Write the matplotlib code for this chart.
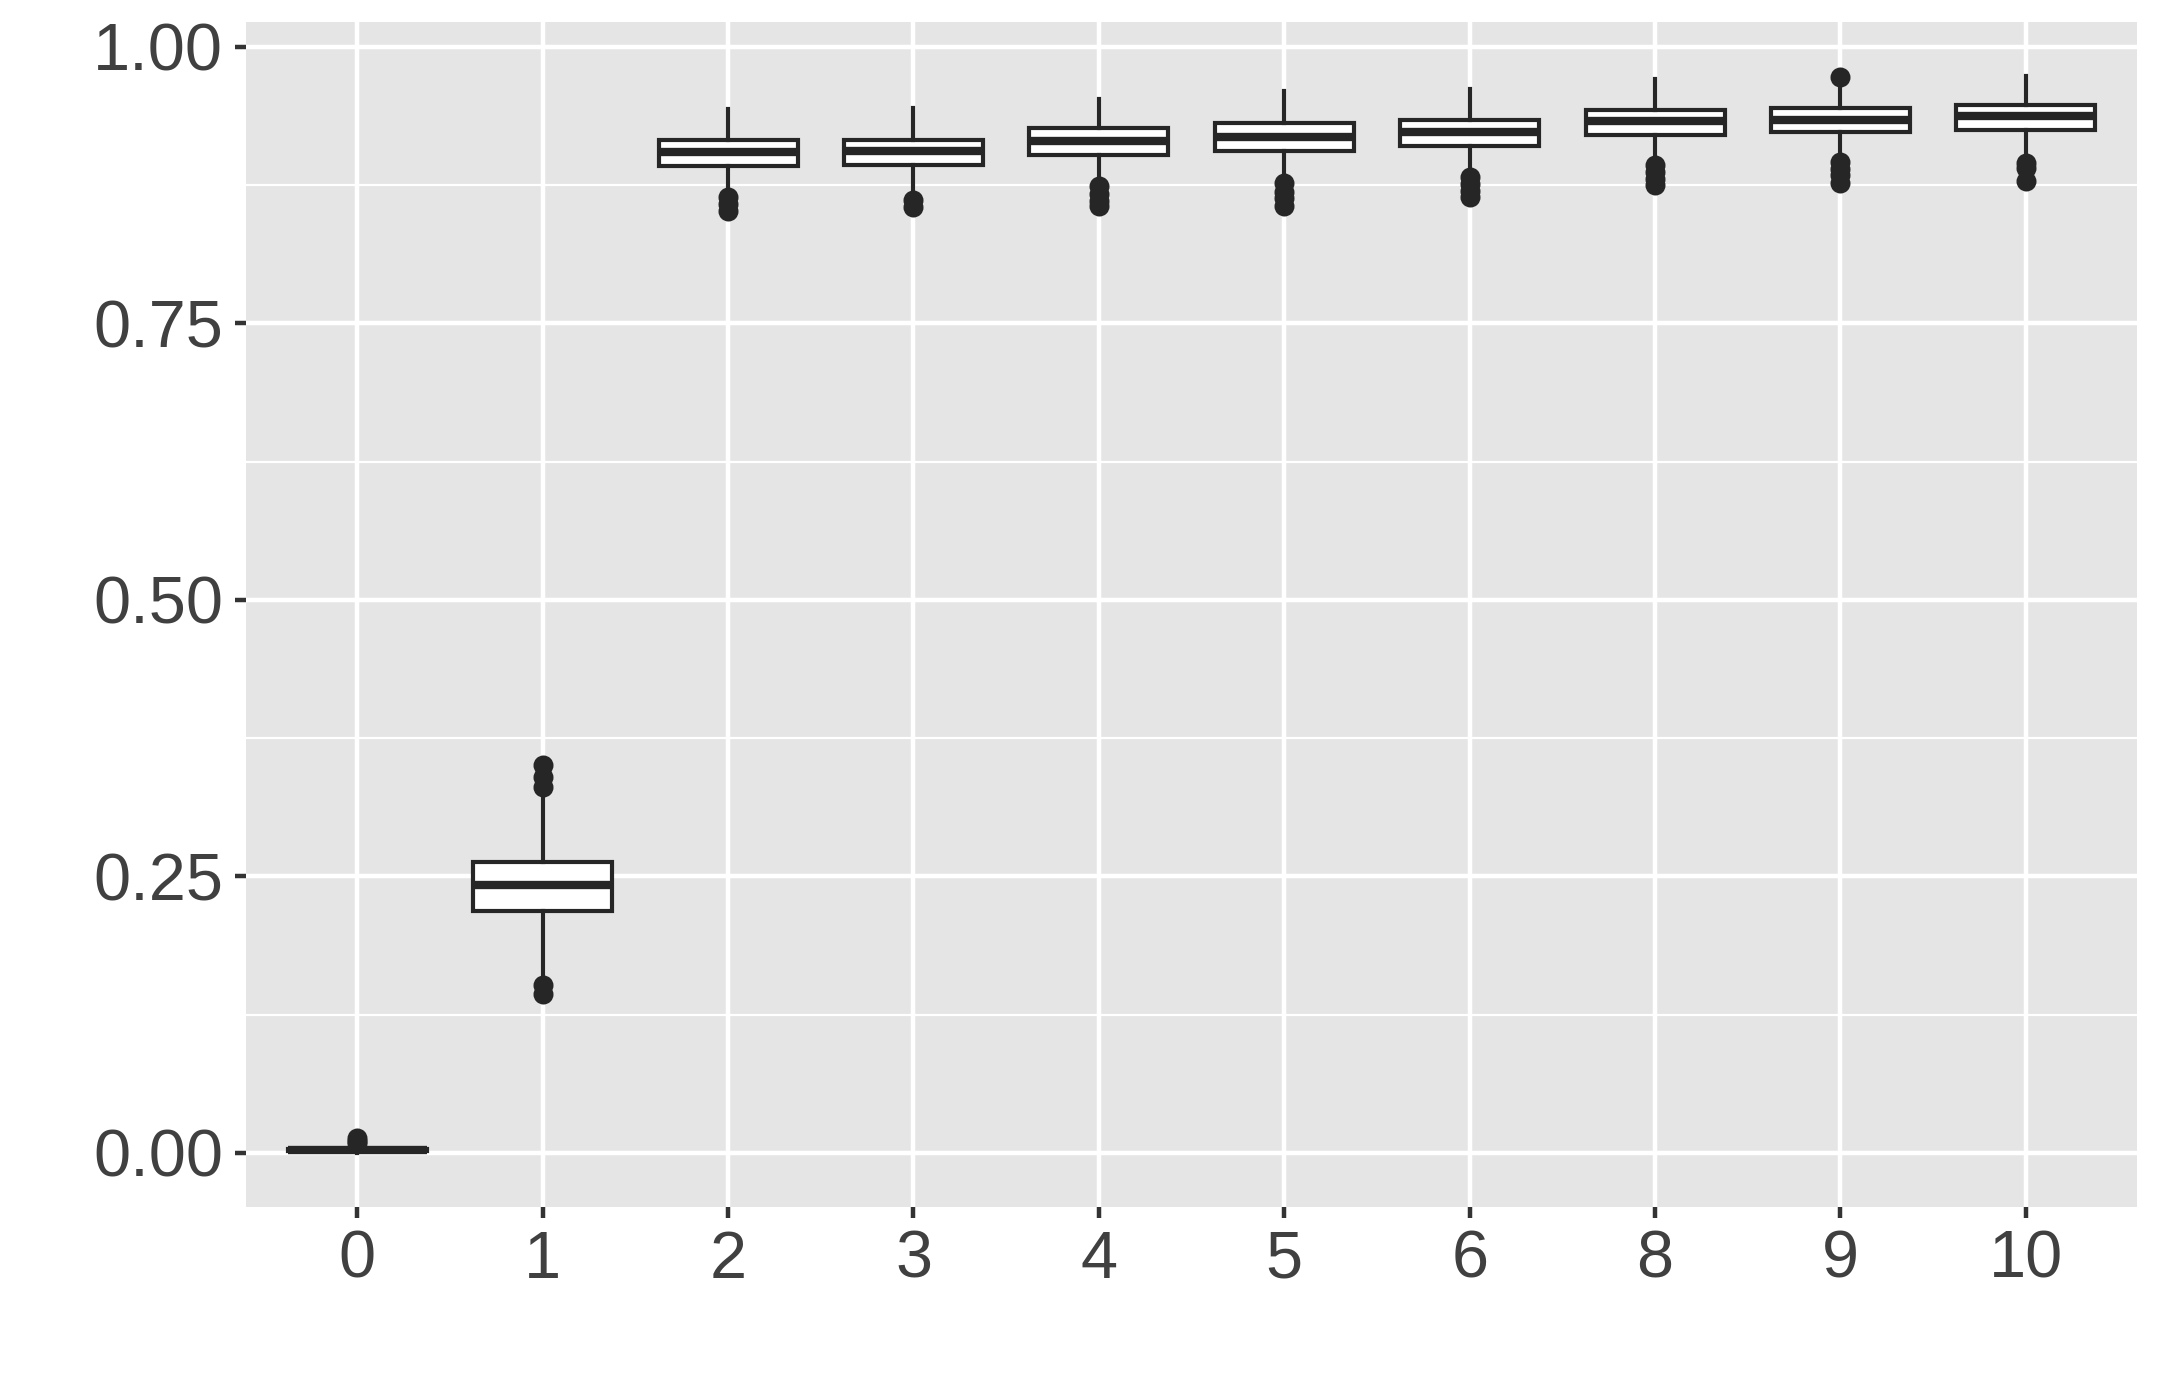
import matplotlib
matplotlib.use("Agg")
import matplotlib.pyplot as plt
from matplotlib.ticker import FixedLocator

plt.rcParams['font.family'] = ['Liberation Sans', 'DejaVu Sans']

categories = ["0", "1", "2", "3", "4", "5", "6", "8", "9", "10"]
q1 = [0.002, 0.219, 0.892, 0.893, 0.902, 0.906, 0.9105, 0.920, 0.923, 0.925]
med = [0.003, 0.242, 0.905, 0.906, 0.915, 0.919, 0.9235, 0.933, 0.934, 0.9375]
q3 = [0.004, 0.263, 0.916, 0.916, 0.927, 0.931, 0.934, 0.943, 0.945, 0.9475]
whislo = [0.000, 0.159, 0.869, 0.869, 0.881, 0.883, 0.889, 0.899, 0.904, 0.904]
whishi = [0.006, 0.324, 0.944, 0.945, 0.953, 0.960, 0.962, 0.971, 0.964, 0.974]
fliers = [
    [0.009, 0.011, 0.0135],
    [0.351, 0.340, 0.331, 0.152, 0.144],
    [0.864, 0.858, 0.852],
    [0.862, 0.855],
    [0.874, 0.867, 0.861, 0.856],
    [0.877, 0.869, 0.863, 0.856],
    [0.882, 0.876, 0.870, 0.864],
    [0.893, 0.887, 0.881, 0.875],
    [0.973, 0.896, 0.890, 0.884, 0.877],
    [0.895, 0.891, 0.879],
]
y_ticks = [0.00, 0.25, 0.50, 0.75, 1.00]
y_ticklabels = ["0.00", "0.25", "0.50", "0.75", "1.00"]

fig = plt.figure(figsize=(7.2, 4.62), dpi=300)
ax = fig.add_axes([0.1139, 0.1293, 0.9894 - 0.1139, 0.984 - 0.1293])
ax.set_facecolor("#E5E5E5")
for s in ax.spines.values():
    s.set_visible(False)

stats = []
for i in range(len(categories)):
    stats.append(dict(q1=q1[i], med=med[i], q3=q3[i], whislo=whislo[i],
                      whishi=whishi[i], fliers=fliers[i], label=categories[i]))

lc = "#262626"
lw = 1.0
ax.bxp(stats, positions=list(range(len(categories))), widths=0.75,
       showcaps=False, patch_artist=True,
       boxprops=dict(facecolor="white", edgecolor=lc, linewidth=lw),
       whiskerprops=dict(color=lc, linewidth=lw),
       medianprops=dict(color=lc, linewidth=2.0, solid_capstyle="butt"),
       flierprops=dict(marker="o", markerfacecolor=lc, markeredgecolor=lc,
                       markersize=3.8, linestyle="none"),
       zorder=3)

ax.set_xlim(-0.6, len(categories) - 1 + 0.6)
ax.set_ylim(-0.0487, 1.0224)
ax.set_xticks(range(len(categories)))
ax.set_xticklabels(categories)
ax.set_yticks(y_ticks)
ax.set_yticklabels(y_ticklabels)
ax.yaxis.set_minor_locator(FixedLocator([0.125, 0.375, 0.625, 0.875]))

ax.grid(True, which="major", color="white", linewidth=1.07, zorder=0)
ax.grid(True, which="minor", axis="y", color="white", linewidth=0.53, zorder=0)
ax.set_axisbelow(True)

ax.tick_params(axis="both", which="major", length=2.75, width=1.07, color="#333333",
               labelsize=16, labelcolor="#404040", pad=2.8)
ax.tick_params(axis="both", which="minor", length=0)

fig.savefig("out.png", dpi=300, facecolor="white")
